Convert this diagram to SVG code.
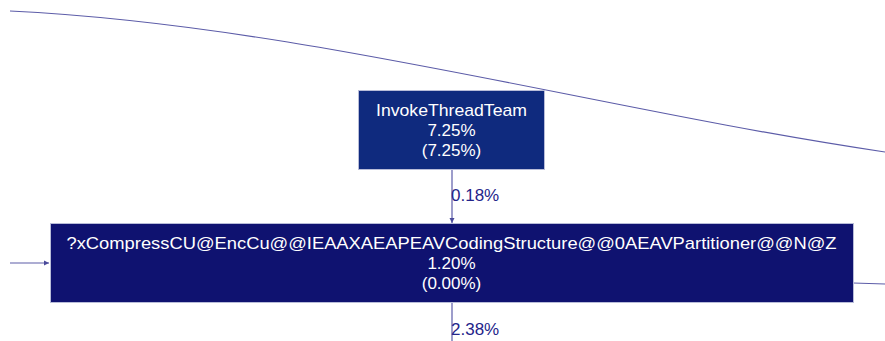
<svg xmlns="http://www.w3.org/2000/svg" width="885" height="341" viewBox="0 0 885 341">
  <defs>
    <marker id="arrow" markerWidth="6" markerHeight="6" refX="5" refY="3" orient="auto" markerUnits="userSpaceOnUse">
      <path d="M0,0.5 L5,3 L0,5.5 Z" fill="#4a4a9a"/>
    </marker>
    <style>
      .edge { fill: none; stroke: #5c5ca8; stroke-width: 1.2; }
      .elabel { font-family: "Liberation Sans", Arial, sans-serif; font-size: 17px; fill: #24248a; }
      .nlabel { font-family: "Liberation Sans", Arial, sans-serif; font-size: 17px; fill: #ffffff; text-anchor: middle; }
      .box { stroke: #b8bcd8; stroke-width: 1; }
    </style>
  </defs>

  <g id="edges">
    <path class="edge" d="M10,11 C300,25 600,110 885,152"/>
    <path class="edge" d="M452,170 L452,223" marker-end="url(#arrow)"/>
    <text class="elabel" x="451" y="201">0.18%</text>
    <path class="edge" d="M10,263 L49,263" marker-end="url(#arrow)"/>
    <path class="edge" d="M853,283 L885,284"/>
    <path class="edge" d="M452,303 L452,341"/>
    <text class="elabel" x="451" y="335">2.38%</text>
  </g>

  <g id="node-invoke">
    <rect class="box" x="358.5" y="90.5" width="186" height="79" fill="#0f2a7e"/>
    <text class="nlabel" x="451.5" y="116" textLength="151" lengthAdjust="spacingAndGlyphs">InvokeThreadTeam</text>
    <text class="nlabel" x="451.5" y="136">7.25%</text>
    <text class="nlabel" x="451.5" y="156">(7.25%)</text>
  </g>

  <g id="node-compress">
    <rect class="box" x="50.5" y="223.5" width="803" height="79" fill="#0f1270"/>
    <text class="nlabel" x="451.5" y="249" textLength="770" lengthAdjust="spacingAndGlyphs">?xCompressCU@EncCu@@IEAAXAEAPEAVCodingStructure@@0AEAVPartitioner@@N@Z</text>
    <text class="nlabel" x="451.5" y="269">1.20%</text>
    <text class="nlabel" x="451.5" y="289">(0.00%)</text>
  </g>
</svg>
